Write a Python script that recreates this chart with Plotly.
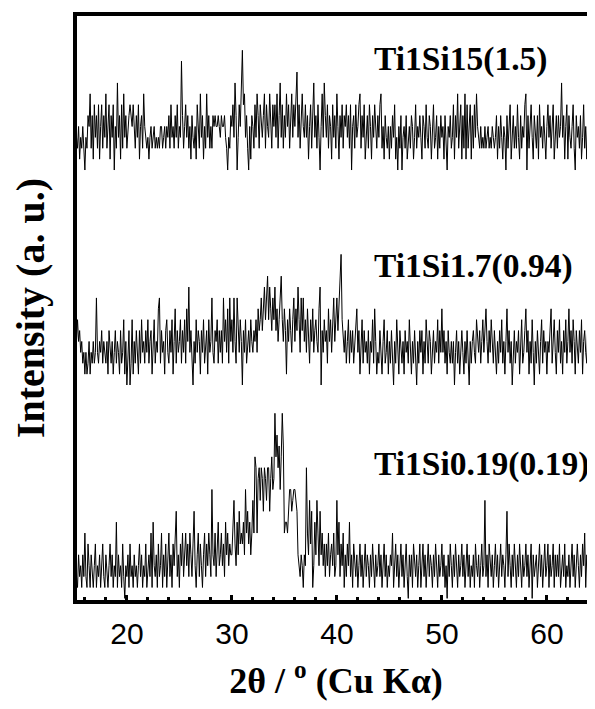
import numpy as np
import plotly.graph_objects as go

# 2-theta grid: 15.0 .. 64.9 deg, 0.1 deg step (10 points per degree row)
two_theta_start = 15.0
two_theta_step = 0.1

# counts above each trace's own baseline, one row per degree (15.x ... 64.x)
ti1si15 = [
    4, 4, 3, 2, 4, 1, 3, 2, 4, 1,
    0, 3, 2, 5, 4, 7, 2, 5, 1, 6,
    3, 5, 2, 6, 1, 4, 6, 2, 5, 3,
    7, 2, 4, 6, 1, 5, 3, 6, 0, 4,
    2, 8, 3, 5, 1, 6, 2, 7, 3, 5,
    2, 4, 5, 6, 5, 4, 6, 3, 2, 5,
    3, 6, 1, 4, 5, 2, 7, 4, 3, 2,
    3, 1, 3, 4, 2, 3, 4, 2, 3, 2,
    3, 2, 4, 4, 2, 3, 4, 2, 4, 3,
    5, 2, 6, 3, 4, 2, 5, 3, 6, 2,
    4, 3, 10, 5, 2, 4, 6, 3, 5, 2,
    4, 1, 5, 3, 2, 4, 1, 6, 3, 2,
    7, 3, 5, 1, 4, 2, 7, 3, 5, 2,
    4, 2, 5, 4, 5, 4, 4, 5, 4, 3,
    5, 4, 4, 5, 3, 2, 0, 3, 2, 5,
    4, 6, 3, 8, 5, 0, 3, 6, 4, 7,
    11, 6, 7, 3, 5, 2, 0, 4, 1, 5,
    4, 2, 6, 3, 7, 5, 2, 6, 4, 3,
    5, 7, 2, 6, 4, 3, 7, 5, 2, 6,
    4, 6, 3, 7, 2, 5, 8, 3, 6, 2,
    5, 3, 7, 4, 6, 2, 5, 7, 3, 6,
    4, 7, 9, 3, 6, 2, 5, 7, 4, 3,
    6, 3, 5, 1, 4, 6, 2, 5, 8, 3,
    5, 2, 6, 3, 0, 4, 7, 3, 8, 5,
    3, 6, 2, 5, 4, 1, 6, 3, 5, 2,
    7, 4, 1, 5, 3, 6, 2, 5, 4, 6,
    3, 5, 2, 6, 0, 4, 5, 2, 6, 3,
    4, 6, 7, 2, 5, 3, 6, 1, 4, 5,
    2, 6, 4, 1, 5, 3, 6, 4, 2, 5,
    3, 6, 7, 2, 4, 1, 5, 3, 2, 4,
    1, 4, 2, 5, 3, 6, 1, 3, 0, 4,
    2, 5, 0, 3, 4, 2, 5, 1, 3, 4,
    2, 5, 4, 1, 3, 6, 2, 4, 3, 5,
    3, 1, 5, 4, 2, 6, 3, 2, 5, 4,
    1, 4, 6, 2, 3, 5, 1, 4, 2, 5,
    3, 4, 1, 5, 2, 0, 4, 3, 5, 2,
    3, 6, 1, 5, 3, 7, 2, 4, 6, 1,
    5, 2, 7, 1, 6, 2, 4, 6, 1, 5,
    2, 6, 3, 7, 4, 3, 2, 4, 2, 3,
    2, 4, 2, 3, 4, 2, 3, 2, 4, 3,
    2, 3, 5, 1, 4, 2, 5, 3, 1, 4,
    3, 0, 5, 2, 4, 6, 1, 3, 5, 2,
    4, 2, 6, 3, 1, 5, 2, 4, 3, 6,
    7, 0, 5, 2, 4, 6, 3, 1, 5, 3,
    2, 5, 1, 6, 3, 4, 2, 5, 3, 1,
    4, 6, 3, 5, 2, 4, 6, 1, 3, 5,
    2, 5, 3, 4, 8, 3, 5, 1, 4, 6,
    1, 5, 3, 2, 4, 6, 2, 0, 5, 3,
    4, 2, 5, 1, 3, 6, 2, 4, 1, 5,
    3, 5, 2, 4, 1, 6, 3, 5, 2, 4,
]

ti1si1_7 = [
    5, 5, 4, 6, 4, 5, 3, 4, 2, 3,
    1, 3, 1, 2, 4, 1, 3, 2, 4, 2,
    3, 8, 3, 2, 4, 3, 5, 2, 4, 3,
    2, 4, 1, 5, 3, 2, 4, 1, 3, 5,
    2, 4, 3, 1, 5, 2, 3, 6, 1, 4,
    0, 3, 5, 0, 2, 6, 1, 4, 2, 5,
    3, 1, 5, 2, 6, 3, 4, 2, 5, 3,
    6, 2, 4, 5, 1, 3, 6, 2, 4, 3,
    7, 8, 2, 5, 3, 4, 1, 5, 6, 3,
    2, 5, 3, 6, 1, 4, 7, 2, 5, 3,
    4, 6, 2, 5, 3, 6, 2, 7, 4, 9,
    3, 5, 2, 0, 4, 2, 6, 3, 5, 4,
    1, 5, 3, 6, 2, 4, 5, 1, 6, 3,
    4, 8, 3, 2, 5, 4, 6, 2, 5, 3,
    5, 2, 8, 4, 6, 3, 7, 2, 8, 4,
    6, 3, 8, 4, 2, 8, 5, 3, 6, 4,
    0, 5, 3, 6, 2, 4, 5, 3, 6, 4,
    3, 5, 4, 6, 3, 7, 5, 6, 8, 5,
    7, 9, 6, 8, 10, 6, 9, 7, 5, 8,
    6, 9, 5, 7, 4, 6, 8, 10, 6, 4,
    7, 5, 1, 6, 4, 7, 5, 3, 6, 8,
    4, 7, 5, 9, 6, 3, 8, 5, 8, 4,
    6, 3, 7, 5, 2, 6, 4, 7, 3, 5,
    6, 4, 3, 7, 9, 0, 5, 3, 6, 4,
    5, 2, 7, 4, 6, 3, 5, 8, 4, 6,
    8, 5, 7, 9, 12, 6, 4, 3, 5, 2,
    4, 6, 2, 5, 3, 5, 2, 4, 6, 7,
    3, 5, 1, 4, 6, 2, 5, 3, 4, 2,
    5, 1, 4, 3, 6, 2, 7, 4, 1, 3,
    2, 5, 3, 1, 4, 6, 2, 3, 5, 1,
    4, 2, 5, 3, 0, 4, 2, 6, 3, 1,
    5, 3, 2, 4, 1, 5, 3, 4, 2, 6,
    3, 1, 4, 2, 5, 3, 0, 4, 2, 5,
    3, 5, 1, 4, 2, 6, 3, 2, 5, 4,
    1, 3, 5, 2, 4, 3, 6, 2, 5, 3,
    7, 3, 5, 2, 4, 1, 5, 3, 2, 4,
    2, 4, 0, 3, 5, 2, 4, 1, 3, 5,
    3, 1, 4, 2, 5, 3, 0, 4, 2, 4,
    5, 3, 2, 6, 4, 3, 5, 2, 4, 6,
    3, 5, 7, 4, 2, 5, 3, 6, 4, 2,
    5, 3, 1, 4, 2, 5, 3, 6, 2, 4,
    1, 4, 7, 3, 5, 2, 4, 0, 3, 5,
    2, 4, 3, 5, 1, 4, 6, 2, 3, 5,
    7, 3, 5, 1, 4, 2, 6, 3, 0, 4,
    2, 5, 3, 1, 4, 6, 2, 5, 3, 4,
    1, 4, 3, 5, 7, 2, 4, 6, 3, 1,
    5, 3, 6, 2, 4, 1, 5, 3, 6, 2,
    4, 7, 3, 5, 2, 6, 4, 1, 5, 3,
    2, 5, 3, 6, 1, 4, 5, 3, 2, 6,
    4, 2, 5, 3, 6, 1, 4, 3, 5, 2,
]

ti1si0_19 = [
    3, 5, 2, 1, 4, 2, 3, 1, 4, 2,
    6, 2, 1, 5, 3, 1, 4, 2, 1, 3,
    5, 1, 3, 2, 4, 1, 3, 5, 2, 1,
    4, 2, 1, 3, 5, 2, 4, 1, 3, 2,
    7, 1, 4, 2, 3, 1, 5, 2, 0, 3,
    2, 4, 1, 5, 2, 3, 1, 4, 2, 3,
    1, 3, 5, 2, 4, 1, 3, 2, 5, 1,
    3, 4, 2, 6, 1, 7, 3, 2, 4, 1,
    5, 2, 3, 6, 1, 4, 2, 5, 1, 3,
    6, 2, 4, 1, 5, 3, 6, 8, 2, 4,
    1, 5, 3, 6, 2, 4, 6, 3, 5, 2,
    6, 4, 2, 5, 8, 3, 1, 4, 6, 2,
    5, 3, 1, 4, 6, 2, 5, 3, 6, 4,
    2, 10, 4, 3, 6, 2, 5, 7, 3, 4,
    6, 3, 5, 2, 7, 4, 6, 3, 5, 4,
    4, 6, 9, 5, 3, 7, 4, 8, 5, 6,
    5, 7, 4, 10, 6, 8, 5, 7, 4, 6,
    9, 6, 13, 12, 6, 11, 12, 9, 12, 11,
    8, 12, 11, 9, 12, 12, 8, 11, 13, 10,
    11, 17, 13, 15, 12, 14, 10, 13, 17, 14,
    6, 7, 7, 6, 9, 10, 10, 8, 9, 10,
    10, 9, 8, 4, 3, 2, 4, 3, 1, 4,
    3, 12, 6, 4, 9, 5, 8, 1, 3, 7,
    4, 9, 6, 3, 8, 4, 6, 3, 5, 2,
    5, 3, 6, 2, 4, 5, 3, 6, 2, 3,
    9, 4, 7, 2, 5, 3, 6, 1, 4, 2,
    5, 3, 7, 2, 4, 1, 5, 3, 2, 4,
    1, 3, 5, 2, 4, 1, 3, 5, 2, 4,
    3, 1, 4, 2, 5, 3, 1, 4, 2, 3,
    5, 2, 4, 1, 3, 5, 2, 4, 1, 3,
    2, 4, 3, 6, 1, 3, 5, 2, 4, 1,
    3, 5, 2, 4, 1, 3, 5, 2, 0, 4,
    2, 4, 1, 5, 3, 2, 4, 1, 3, 5,
    1, 3, 5, 2, 4, 1, 3, 5, 2, 4,
    3, 1, 4, 2, 5, 3, 1, 4, 2, 3,
    5, 2, 4, 1, 3, 0, 4, 2, 5, 3,
    1, 4, 2, 5, 3, 1, 4, 2, 3, 5,
    2, 4, 1, 3, 5, 2, 4, 1, 3, 2,
    4, 1, 5, 3, 2, 4, 1, 3, 5, 2,
    3, 9, 2, 4, 1, 5, 3, 2, 4, 1,
    3, 5, 2, 4, 1, 3, 5, 2, 4, 3,
    1, 4, 8, 2, 5, 3, 1, 4, 2, 5,
    3, 1, 4, 2, 5, 3, 1, 4, 2, 3,
    5, 2, 4, 1, 3, 5, 0, 4, 2, 3,
    4, 1, 3, 5, 2, 4, 1, 3, 5, 2,
    3, 5, 1, 4, 2, 3, 5, 1, 4, 2,
    4, 2, 5, 1, 3, 4, 2, 5, 1, 3,
    2, 4, 1, 3, 5, 2, 4, 1, 3, 5,
    3, 1, 4, 2, 5, 3, 6, 1, 4, 2,
    4, 2, 5, 1, 3, 4, 2, 5, 1, 3,
]

series_names = ["Ti1Si15(1.5)", "Ti1Si1.7(0.94)", "Ti1Si0.19(0.19)"]
series_values = [ti1si15, ti1si1_7, ti1si0_19]
series_offsets = [39.35, 19.6, 0.0]
tick_values = [20, 30, 40, 50, 60]
tick_labels = ["20", "30", "40", "50", "60"]

two_theta = two_theta_start + two_theta_step * np.arange(len(ti1si15))

fig = go.Figure()
for name, vals, off in zip(series_names, series_values, series_offsets):
    fig.add_trace(go.Scatter(
        x=two_theta, y=np.array(vals, dtype=float) + off, mode="lines",
        name=name, line=dict(color="black", width=1), showlegend=False,
    ))

serif = "Liberation Serif, Times New Roman, serif"
label_y = [0.9265, 0.5725, 0.2325]
for name, yy in zip(series_names, label_y):
    fig.add_annotation(
        text=name, xref="paper", yref="paper", x=0.5695, y=yy,
        xanchor="left", yanchor="middle", showarrow=False,
        font=dict(family=serif, size=33.5, color="black", weight="bold"),
    )

# the page body adds an 8px offset; the figure is sized so it fits the
# window exactly without scrollbars and the frame runs to the right edge
fig.update_layout(
    template="none",
    width=587, height=693,
    margin=dict(l=69, r=0, t=8, b=101, autoexpand=False),
    paper_bgcolor="white", plot_bgcolor="white",
    xaxis=dict(
        automargin=False,
        range=[15.25, 64.583], showline=True, linewidth=4, linecolor="black",
        mirror=True, showgrid=False, zeroline=False,
        tickmode="array", tickvals=tick_values, ticktext=tick_labels,
        ticks="inside", ticklen=5, tickwidth=3, tickcolor="black",
        ticklabelstandoff=4,
        minor=dict(dtick=2, tick0=0, ticks="inside", ticklen=3, tickwidth=3,
                   tickcolor="black", showgrid=False),
        tickfont=dict(family="Liberation Sans, Arial, sans-serif", size=30, color="black"),
        title=dict(text="2θ / <sup>o</sup> (Cu Kα)", standoff=22,
                   font=dict(family=serif, size=36, color="black", weight="bold")),
    ),
    yaxis=dict(
        automargin=False,
        range=[-0.15, 53.5], showline=True, linewidth=4, linecolor="black",
        mirror=False, showgrid=False, zeroline=False, showticklabels=False,
        ticks="",
        title=dict(text="Intensity (a. u.)", standoff=25,
                   font=dict(family=serif, size=40, color="black", weight="bold")),
    ),
)

fig.write_html("out.html")
